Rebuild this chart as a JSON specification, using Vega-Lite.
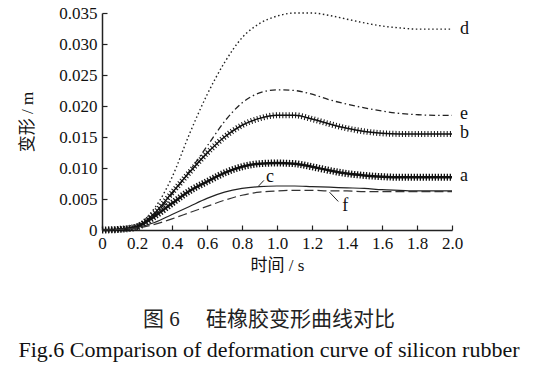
{
  "$schema": "https://vega.github.io/schema/vega-lite/v6.json",
  "autosize": "none",
  "width": 350,
  "height": 217,
  "padding": {"left": 102, "top": 13, "right": 98, "bottom": 137},
  "background": "white",
  "config": {
    "view": {"stroke": null}
  },
  "title": {
    "text": "图 6　 硅橡胶变形曲线对比",
    "subtitle": "Fig.6 Comparison of deformation curve of silicon rubber",
    "orient": "bottom",
    "anchor": "middle",
    "frame": "group",
    "offset": 36,
    "dx": -8,
    "font": "Liberation Serif, Noto Sans CJK SC",
    "fontSize": 21,
    "fontWeight": "normal",
    "color": "#222",
    "subtitleFont": "Liberation Serif, serif",
    "subtitleFontSize": 22,
    "subtitleColor": "#111",
    "subtitlePadding": 10
  },
  "datasets": {
    "curves": [
      {"s":"d","t":0,"v":0},{"s":"d","t":0.1,"v":0.0001},{"s":"d","t":0.2,"v":0.0008},{"s":"d","t":0.3,"v":0.0035},{"s":"d","t":0.4,"v":0.0085},{"s":"d","t":0.5,"v":0.0155},{"s":"d","t":0.6,"v":0.0218},{"s":"d","t":0.7,"v":0.027},{"s":"d","t":0.8,"v":0.031},{"s":"d","t":0.9,"v":0.0333},{"s":"d","t":1.0,"v":0.0345},{"s":"d","t":1.1,"v":0.035},{"s":"d","t":1.2,"v":0.035},{"s":"d","t":1.3,"v":0.0346},{"s":"d","t":1.4,"v":0.034},{"s":"d","t":1.5,"v":0.0334},{"s":"d","t":1.6,"v":0.0329},{"s":"d","t":1.7,"v":0.0326},{"s":"d","t":1.8,"v":0.0324},{"s":"d","t":1.9,"v":0.0324},{"s":"d","t":2.0,"v":0.0324},
      {"s":"e","t":0,"v":0},{"s":"e","t":0.1,"v":0.0001},{"s":"e","t":0.2,"v":0.0006},{"s":"e","t":0.3,"v":0.0025},{"s":"e","t":0.4,"v":0.0058},{"s":"e","t":0.5,"v":0.0095},{"s":"e","t":0.6,"v":0.0135},{"s":"e","t":0.7,"v":0.0175},{"s":"e","t":0.8,"v":0.0205},{"s":"e","t":0.9,"v":0.0221},{"s":"e","t":1.0,"v":0.0226},{"s":"e","t":1.1,"v":0.0225},{"s":"e","t":1.2,"v":0.0219},{"s":"e","t":1.3,"v":0.021},{"s":"e","t":1.4,"v":0.0203},{"s":"e","t":1.5,"v":0.0197},{"s":"e","t":1.6,"v":0.0192},{"s":"e","t":1.7,"v":0.0188},{"s":"e","t":1.8,"v":0.0186},{"s":"e","t":1.9,"v":0.0185},{"s":"e","t":2.0,"v":0.0185},
      {"s":"b","t":0,"v":0},{"s":"b","t":0.1,"v":0.0001},{"s":"b","t":0.2,"v":0.0006},{"s":"b","t":0.3,"v":0.0027},{"s":"b","t":0.4,"v":0.006},{"s":"b","t":0.5,"v":0.0093},{"s":"b","t":0.6,"v":0.0124},{"s":"b","t":0.7,"v":0.015},{"s":"b","t":0.8,"v":0.0169},{"s":"b","t":0.9,"v":0.018},{"s":"b","t":1.0,"v":0.0185},{"s":"b","t":1.1,"v":0.0185},{"s":"b","t":1.2,"v":0.0179},{"s":"b","t":1.3,"v":0.0171},{"s":"b","t":1.4,"v":0.0164},{"s":"b","t":1.5,"v":0.0159},{"s":"b","t":1.6,"v":0.0156},{"s":"b","t":1.7,"v":0.0155},{"s":"b","t":1.8,"v":0.0155},{"s":"b","t":1.9,"v":0.0155},{"s":"b","t":2.0,"v":0.0155},
      {"s":"a","t":0,"v":0},{"s":"a","t":0.1,"v":0.0001},{"s":"a","t":0.2,"v":0.0005},{"s":"a","t":0.3,"v":0.0022},{"s":"a","t":0.4,"v":0.0043},{"s":"a","t":0.5,"v":0.0063},{"s":"a","t":0.6,"v":0.0078},{"s":"a","t":0.7,"v":0.0092},{"s":"a","t":0.8,"v":0.0102},{"s":"a","t":0.9,"v":0.0107},{"s":"a","t":1.0,"v":0.0108},{"s":"a","t":1.1,"v":0.0107},{"s":"a","t":1.2,"v":0.0102},{"s":"a","t":1.3,"v":0.0096},{"s":"a","t":1.4,"v":0.0091},{"s":"a","t":1.5,"v":0.0088},{"s":"a","t":1.6,"v":0.0086},{"s":"a","t":1.7,"v":0.0085},{"s":"a","t":1.8,"v":0.0085},{"s":"a","t":1.9,"v":0.0085},{"s":"a","t":2.0,"v":0.0085},
      {"s":"c","t":0,"v":0},{"s":"c","t":0.1,"v":0.0001},{"s":"c","t":0.2,"v":0.0004},{"s":"c","t":0.3,"v":0.0012},{"s":"c","t":0.4,"v":0.0025},{"s":"c","t":0.5,"v":0.0038},{"s":"c","t":0.6,"v":0.0051},{"s":"c","t":0.7,"v":0.0061},{"s":"c","t":0.8,"v":0.0067},{"s":"c","t":0.9,"v":0.007},{"s":"c","t":1.0,"v":0.0071},{"s":"c","t":1.1,"v":0.0071},{"s":"c","t":1.2,"v":0.007},{"s":"c","t":1.3,"v":0.0069},{"s":"c","t":1.4,"v":0.0068},{"s":"c","t":1.5,"v":0.0067},{"s":"c","t":1.6,"v":0.0065},{"s":"c","t":1.7,"v":0.0064},{"s":"c","t":1.8,"v":0.0063},{"s":"c","t":1.9,"v":0.0063},{"s":"c","t":2.0,"v":0.0063},
      {"s":"f","t":0,"v":0},{"s":"f","t":0.1,"v":0.0001},{"s":"f","t":0.2,"v":0.0003},{"s":"f","t":0.3,"v":0.0009},{"s":"f","t":0.4,"v":0.0018},{"s":"f","t":0.5,"v":0.0028},{"s":"f","t":0.6,"v":0.0038},{"s":"f","t":0.7,"v":0.0048},{"s":"f","t":0.8,"v":0.0056},{"s":"f","t":0.9,"v":0.0061},{"s":"f","t":1.0,"v":0.0063},{"s":"f","t":1.1,"v":0.0064},{"s":"f","t":1.2,"v":0.0064},{"s":"f","t":1.3,"v":0.0063},{"s":"f","t":1.4,"v":0.0063},{"s":"f","t":1.5,"v":0.0062},{"s":"f","t":1.6,"v":0.0062},{"s":"f","t":1.7,"v":0.0062},{"s":"f","t":1.8,"v":0.0062},{"s":"f","t":1.9,"v":0.0062},{"s":"f","t":2.0,"v":0.0062}
    ],
    "endlabels": [
      {"label":"d","t":2.0,"v":0.0324},
      {"label":"e","t":2.0,"v":0.0187},
      {"label":"b","t":2.0,"v":0.0156},
      {"label":"a","t":2.0,"v":0.0087}
    ],
    "innerlabels": [
      {"label":"c","t":0.96,"v":0.0085},
      {"label":"f","t":1.39,"v":0.0039}
    ],
    "leaders": [
      {"t":0.925,"v":0.0080,"t2":0.895,"v2":0.0071},
      {"t":1.30,"v":0.0061,"t2":1.35,"v2":0.0046}
    ]
  },
  "encoding": {
    "x": {"field": "t", "type": "quantitative", "scale": {"domain": [0, 2], "nice": false},
          "axis": {"title": "时间 / s", "values": [0,0.2,0.4,0.6,0.8,1.0,1.2,1.4,1.6,1.8,2.0],
                   "labelExpr": "datum.value == 0 ? '0' : format(datum.value, '.1f')",
                   "grid": false, "domainColor": "#222", "domainWidth": 1.5, "tickColor": "#222", "tickWidth": 1.2, "tickSize": -5,
                   "labelFont": "Liberation Serif, serif", "labelFontSize": 17, "labelColor": "#111", "labelOverlap": false, "labelBound": false, "labelFlush": false,
                   "labelPadding": 10, "titlePadding": 6,
                   "titleFont": "Liberation Serif, Noto Sans CJK SC", "titleFontSize": 17, "titleFontWeight": "normal", "titleColor": "#111"}},
    "y": {"field": "v", "type": "quantitative", "scale": {"domain": [0, 0.035], "nice": false},
          "axis": {"title": "变形 / m", "values": [0,0.005,0.01,0.015,0.02,0.025,0.03,0.035],
                   "labelExpr": "datum.value == 0 ? '0' : format(datum.value, '.3f')",
                   "grid": false, "domainColor": "#222", "domainWidth": 1.5, "tickColor": "#222", "tickWidth": 1.2, "tickSize": -5,
                   "labelFont": "Liberation Serif, serif", "labelFontSize": 17, "labelColor": "#111", "labelOverlap": false, "labelBound": false, "labelFlush": false,
                   "labelPadding": 10, "titlePadding": 22,
                   "titleFont": "Liberation Serif, Noto Sans CJK SC", "titleFontSize": 17, "titleFontWeight": "normal", "titleColor": "#111"}}
  },
  "layer": [
    {
      "data": {"name": "curves"},
      "transform": [{"filter": "datum.s == 'd'"}],
      "mark": {"type": "line", "interpolate": "monotone", "color": "#222", "strokeWidth": 1.4, "strokeDash": [1.5, 2.6]}
    },
    {
      "data": {"name": "curves"},
      "transform": [{"filter": "datum.s == 'e'"}],
      "mark": {"type": "line", "interpolate": "monotone", "color": "#222", "strokeWidth": 1.3, "strokeDash": [6, 3, 1.5, 3]}
    },
    {
      "data": {"name": "curves"},
      "transform": [{"filter": "datum.s == 'b'"}],
      "mark": {"type": "line", "interpolate": "monotone", "color": "#111", "strokeWidth": 1.5}
    },
    {
      "data": {"name": "curves"},
      "transform": [{"filter": "datum.s == 'b'"}],
      "mark": {"type": "line", "interpolate": "monotone", "color": "#111", "strokeWidth": 6, "strokeDash": [1, 2.2]}
    },
    {
      "data": {"name": "curves"},
      "transform": [{"filter": "datum.s == 'a'"}],
      "mark": {"type": "line", "interpolate": "monotone", "color": "#111", "strokeWidth": 2.5}
    },
    {
      "data": {"name": "curves"},
      "transform": [{"filter": "datum.s == 'a'"}],
      "mark": {"type": "line", "interpolate": "monotone", "color": "#111", "strokeWidth": 7, "strokeDash": [1.3, 1.7]}
    },
    {
      "data": {"name": "curves"},
      "transform": [{"filter": "datum.s == 'c'"}],
      "mark": {"type": "line", "interpolate": "monotone", "color": "#222", "strokeWidth": 1.2}
    },
    {
      "data": {"name": "curves"},
      "transform": [{"filter": "datum.s == 'f'"}],
      "mark": {"type": "line", "interpolate": "monotone", "color": "#333", "strokeWidth": 1.2, "strokeDash": [9, 4]}
    },
    {
      "data": {"name": "leaders"},
      "mark": {"type": "rule", "color": "#222", "strokeWidth": 1},
      "encoding": {
        "x2": {"field": "t2"}, "y2": {"field": "v2"}
      }
    },
    {
      "data": {"name": "endlabels"},
      "mark": {"type": "text", "align": "left", "baseline": "middle", "dx": 8, "font": "Liberation Serif", "fontSize": 18, "color": "#111"},
      "encoding": {"text": {"field": "label"}}
    },
    {
      "data": {"name": "innerlabels"},
      "mark": {"type": "text", "align": "center", "baseline": "middle", "font": "Liberation Serif", "fontSize": 18, "color": "#111"},
      "encoding": {"text": {"field": "label"}}
    }
  ]
}
